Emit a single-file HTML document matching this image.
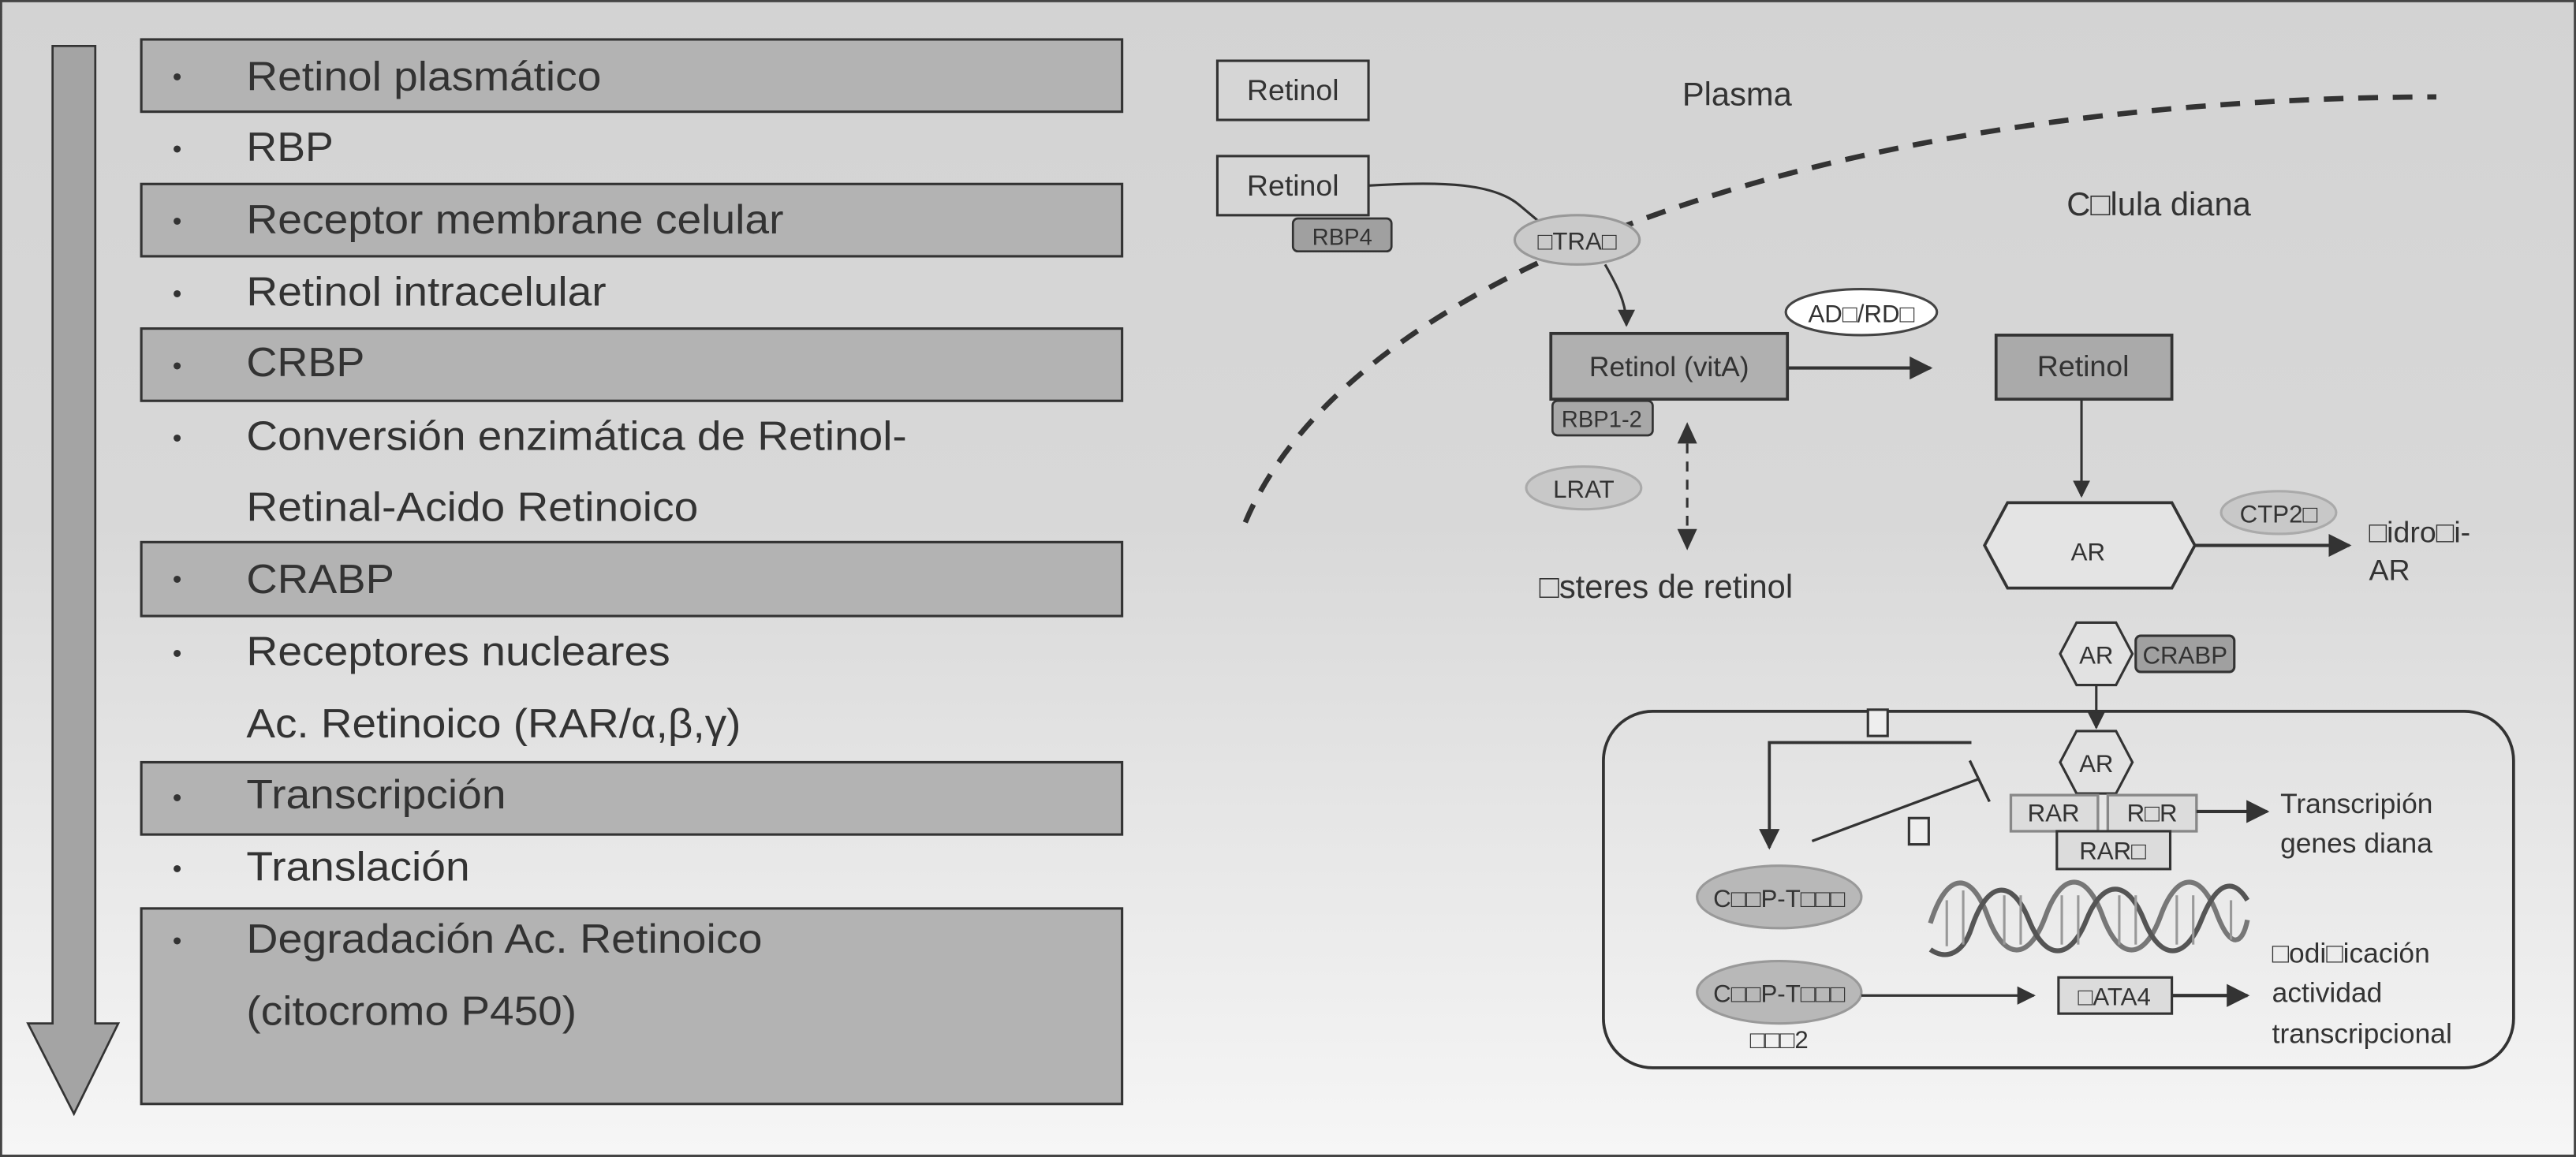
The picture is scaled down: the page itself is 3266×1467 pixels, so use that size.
<!DOCTYPE html>
<html><head><meta charset="utf-8"><style>html,body{margin:0;padding:0;background:#fff}svg{display:block}</style></head>
<body>
<svg width="3266" height="1467" viewBox="0 0 1568 704.3" preserveAspectRatio="none" xmlns="http://www.w3.org/2000/svg" font-family="Liberation Sans, DejaVu Sans, sans-serif" fill="#333">
<defs>
<linearGradient id="bg" x1="0" y1="0" x2="0" y2="1">
<stop offset="0" stop-color="#d3d3d3"/><stop offset="0.45" stop-color="#d8d8d8"/><stop offset="1" stop-color="#f6f6f6"/>
</linearGradient>
<marker id="ah" viewBox="0 0 10 10" refX="9" refY="5" markerWidth="5" markerHeight="5" orient="auto" markerUnits="strokeWidth"><path d="M0,0 L10,5 L0,10 z" fill="#333"/></marker>
<marker id="ah2" viewBox="0 0 10 10" refX="9" refY="5" markerWidth="7" markerHeight="7" orient="auto" markerUnits="strokeWidth"><path d="M0,0 L10,5 L0,10 z" fill="#333"/></marker>
</defs>
<rect x="0.6" y="0.6" width="1566.8" height="703" fill="url(#bg)" stroke="#444" stroke-width="1.5"/>
<!-- big arrow -->
<path d="M32,28 L58,28 L58,623 L72,623 L45,678 L17,623 L32,623 Z" fill="#a4a4a4" stroke="#333" stroke-width="1.3"/>
<!-- left boxes -->
<g fill="#b3b3b3" stroke="#333" stroke-width="1.5">
<rect x="86" y="24" width="597" height="44"/>
<rect x="86" y="112" width="597" height="44"/>
<rect x="86" y="200" width="597" height="44"/>
<rect x="86" y="330" width="597" height="45"/>
<rect x="86" y="464" width="597" height="44"/>
<rect x="86" y="553" width="597" height="119"/>
</g>
<g font-size="25" fill="#333" lengthAdjust="spacingAndGlyphs">
<g font-size="16"><text x="105" y="52">•</text><text x="105" y="96">•</text><text x="105" y="140">•</text><text x="105" y="184">•</text><text x="105" y="228">•</text><text x="105" y="272">•</text><text x="105" y="358">•</text><text x="105" y="403">•</text><text x="105" y="491">•</text><text x="105" y="534">•</text><text x="105" y="578">•</text></g>
<text x="150" y="55" textLength="216" lengthAdjust="spacingAndGlyphs">Retinol plasmático</text>
<text x="150" y="98" textLength="53" lengthAdjust="spacingAndGlyphs">RBP</text>
<text x="150" y="142" textLength="327" lengthAdjust="spacingAndGlyphs">Receptor membrane celular</text>
<text x="150" y="186" textLength="219" lengthAdjust="spacingAndGlyphs">Retinol intracelular</text>
<text x="150" y="229" textLength="72" lengthAdjust="spacingAndGlyphs">CRBP</text>
<text x="150" y="274" textLength="402" lengthAdjust="spacingAndGlyphs">Conversión enzimática de Retinol-</text>
<text x="150" y="317" textLength="275" lengthAdjust="spacingAndGlyphs">Retinal-Acido Retinoico</text>
<text x="150" y="361" textLength="90" lengthAdjust="spacingAndGlyphs">CRABP</text>
<text x="150" y="405" textLength="258" lengthAdjust="spacingAndGlyphs">Receptores nucleares</text>
<text x="150" y="449" textLength="301" lengthAdjust="spacingAndGlyphs">Ac. Retinoico (RAR/α,β,γ)</text>
<text x="150" y="492" textLength="158" lengthAdjust="spacingAndGlyphs">Transcripción</text>
<text x="150" y="536" textLength="136" lengthAdjust="spacingAndGlyphs">Translación</text>
<text x="150" y="580" textLength="314" lengthAdjust="spacingAndGlyphs">Degradación Ac. Retinoico</text>
<text x="150" y="624" textLength="201" lengthAdjust="spacingAndGlyphs">(citocromo P450)</text>
</g>
<!-- right diagram -->
<path d="M758,318 C820,170 1100,60 1483,59" fill="none" stroke="#333" stroke-width="3.2" stroke-dasharray="12,9"/>
<rect x="741" y="37" width="92" height="36" fill="#d6d6d6" stroke="#333" stroke-width="1.5"/>
<text x="787" y="61" font-size="18" text-anchor="middle">Retinol</text>
<text x="1024" y="64" font-size="20">Plasma</text>
<text x="1258" y="131" font-size="20">C□lula diana</text>
<path d="M833,113 C880,110 910,112 925,125 L950,146" fill="none" stroke="#333" stroke-width="1.5"/>
<rect x="741" y="95" width="92" height="36" fill="#d6d6d6" stroke="#333" stroke-width="1.5"/>
<text x="787" y="119" font-size="18" text-anchor="middle">Retinol</text>
<rect x="787" y="133" width="60" height="20" rx="3" fill="#a0a0a0" stroke="#333" stroke-width="1.3"/>
<text x="817" y="149" font-size="14" text-anchor="middle">RBP4</text>
<ellipse cx="960" cy="146" rx="38" ry="15" fill="#cacaca" stroke="#999" stroke-width="1.5"/>
<text x="960" y="152" font-size="15" text-anchor="middle">□TRA□</text>
<path d="M977,161 C985,175 990,185 990,198" fill="none" stroke="#333" stroke-width="1.5" marker-end="url(#ah2)"/>
<ellipse cx="1133" cy="190" rx="46" ry="14" fill="#fff" stroke="#444" stroke-width="1.5"/>
<text x="1133" y="196" font-size="15" text-anchor="middle">AD□/RD□</text>
<rect x="944" y="203" width="144" height="40" fill="#b0b0b0" stroke="#333" stroke-width="1.8"/>
<text x="1016" y="229" font-size="17" text-anchor="middle">Retinol (vitA)</text>
<rect x="945" y="244" width="61" height="21" rx="3" fill="#a8a8a8" stroke="#333" stroke-width="1.3"/>
<text x="975" y="260" font-size="14" text-anchor="middle">RBP1-2</text>
<line x1="1088" y1="224" x2="1175" y2="224" stroke="#333" stroke-width="2" marker-end="url(#ah2)"/>
<rect x="1215" y="204" width="107" height="39" fill="#aaaaaa" stroke="#333" stroke-width="1.8"/>
<text x="1268" y="229" font-size="18" text-anchor="middle">Retinol</text>
<line x1="1267" y1="243" x2="1267" y2="302" stroke="#333" stroke-width="1.5" marker-end="url(#ah2)"/>
<ellipse cx="964" cy="297" rx="35" ry="13" fill="#c8c8c8" stroke="#aaa" stroke-width="1.5"/>
<text x="964" y="303" font-size="15" text-anchor="middle">LRAT</text>
<line x1="1027" y1="270" x2="1027" y2="322" stroke="#333" stroke-width="1.5" stroke-dasharray="6,5"/>
<path d="M1021,270 L1027,257 L1033,270 Z M1021,322 L1027,335 L1033,322 Z" fill="#333"/>
<text x="937" y="364" font-size="20">□steres de retinol</text>
<polygon points="1208,332 1222,306 1322,306 1336,332 1322,358 1222,358" fill="#e4e4e4" stroke="#333" stroke-width="1.8"/>
<text x="1271" y="341" font-size="15" text-anchor="middle">AR</text>
<ellipse cx="1387" cy="312" rx="35" ry="13" fill="#c8c8c8" stroke="#aaa" stroke-width="1.5"/>
<text x="1387" y="318" font-size="15" text-anchor="middle">CTP2□</text>
<line x1="1336" y1="332" x2="1430" y2="332" stroke="#333" stroke-width="2" marker-end="url(#ah2)"/>
<text x="1442" y="330" font-size="18">□idro□i-</text>
<text x="1442" y="353" font-size="18">AR</text>
<!-- AR + CRABP -->
<polygon points="1254,398 1264,379 1288,379 1298,398 1288,417 1264,417" fill="#e2e2e2" stroke="#333" stroke-width="1.5"/>
<text x="1276" y="404" font-size="15" text-anchor="middle">AR</text>
<rect x="1300" y="387" width="60" height="22" rx="3" fill="#a0a0a0" stroke="#333" stroke-width="1.5"/>
<text x="1330" y="404" font-size="15" text-anchor="middle">CRABP</text>
<line x1="1276" y1="417" x2="1276" y2="443" stroke="#333" stroke-width="1.5" marker-end="url(#ah2)"/>
<!-- nucleus -->
<rect x="976" y="433" width="554" height="217" rx="30" fill="none" stroke="#333" stroke-width="1.8"/>
<rect x="1137" y="432" width="12" height="16" fill="#eee" stroke="#333" stroke-width="1.5"/>
<polyline points="1200,452 1077,452 1077,516" fill="none" stroke="#333" stroke-width="1.8" marker-end="url(#ah2)"/>
<line x1="1103" y1="512" x2="1205" y2="474" stroke="#333" stroke-width="1.6"/>
<line x1="1199" y1="463" x2="1211" y2="488" stroke="#333" stroke-width="1.6"/>
<rect x="1162" y="498" width="12" height="16" fill="#eee" stroke="#333" stroke-width="1.5"/>
<polygon points="1254,464 1264,445 1288,445 1298,464 1288,483 1264,483" fill="#e2e2e2" stroke="#333" stroke-width="1.5"/>
<text x="1276" y="470" font-size="15" text-anchor="middle">AR</text>
<rect x="1224" y="484" width="53" height="22" fill="#dcdcdc" stroke="#888" stroke-width="1.6"/>
<rect x="1283" y="484" width="54" height="22" fill="#dcdcdc" stroke="#888" stroke-width="1.6"/>
<text x="1250" y="500" font-size="15" text-anchor="middle">RAR</text>
<text x="1310" y="500" font-size="15" text-anchor="middle">R□R</text>
<rect x="1252" y="506" width="69" height="23" fill="#dcdcdc" stroke="#333" stroke-width="1.5"/>
<text x="1286" y="523" font-size="15" text-anchor="middle">RAR□</text>
<line x1="1337" y1="494" x2="1380" y2="494" stroke="#333" stroke-width="2" marker-end="url(#ah2)"/>
<text x="1388" y="495" font-size="17">Transcripión</text>
<text x="1388" y="519" font-size="17">genes diana</text>
<ellipse cx="1083" cy="546" rx="50" ry="19" fill="#b8b8b8" stroke="#999" stroke-width="1.5"/>
<text x="1083" y="552" font-size="15" text-anchor="middle">C□□P-T□□□</text>
<ellipse cx="1083" cy="604" rx="50" ry="19" fill="#b8b8b8" stroke="#999" stroke-width="1.5"/>
<text x="1083" y="610" font-size="15" text-anchor="middle">C□□P-T□□□</text>
<text x="1083" y="638" font-size="15" text-anchor="middle">□□□2</text>
<!-- DNA -->
<g fill="none" stroke="#777" stroke-width="3">
<path d="M1175,562 C1185,530 1200,530 1210,558 C1220,585 1235,585 1245,558 C1255,530 1270,530 1280,558 C1290,585 1305,585 1315,558 C1325,530 1340,530 1350,558 C1358,578 1365,575 1368,560"/>
<path d="M1175,578 C1185,585 1195,580 1200,565 C1210,535 1225,535 1235,560 C1245,585 1260,585 1270,560 C1280,535 1295,535 1305,560 C1315,585 1330,585 1340,560 C1350,535 1360,535 1368,548" stroke="#555"/>
</g>
<g stroke="#999" stroke-width="1.5">
<line x1="1185" y1="548" x2="1185" y2="576"/><line x1="1195" y1="542" x2="1195" y2="575"/><line x1="1220" y1="545" x2="1220" y2="575"/><line x1="1230" y1="545" x2="1230" y2="575"/><line x1="1255" y1="545" x2="1255" y2="575"/><line x1="1265" y1="545" x2="1265" y2="575"/><line x1="1290" y1="545" x2="1290" y2="575"/><line x1="1300" y1="545" x2="1300" y2="575"/><line x1="1325" y1="545" x2="1325" y2="575"/><line x1="1335" y1="545" x2="1335" y2="575"/><line x1="1358" y1="548" x2="1358" y2="572"/>
</g>
<line x1="1133" y1="606" x2="1238" y2="606" stroke="#333" stroke-width="1.6" marker-end="url(#ah2)"/>
<rect x="1253" y="595" width="69" height="22" fill="#dcdcdc" stroke="#333" stroke-width="1.5"/>
<text x="1287" y="612" font-size="15" text-anchor="middle">□ATA4</text>
<line x1="1322" y1="606" x2="1368" y2="606" stroke="#333" stroke-width="2" marker-end="url(#ah2)"/>
<text x="1383" y="586" font-size="17">□odi□icación</text>
<text x="1383" y="610" font-size="17">actividad</text>
<text x="1383" y="635" font-size="17">transcripcional</text>
</svg>
</body></html>
